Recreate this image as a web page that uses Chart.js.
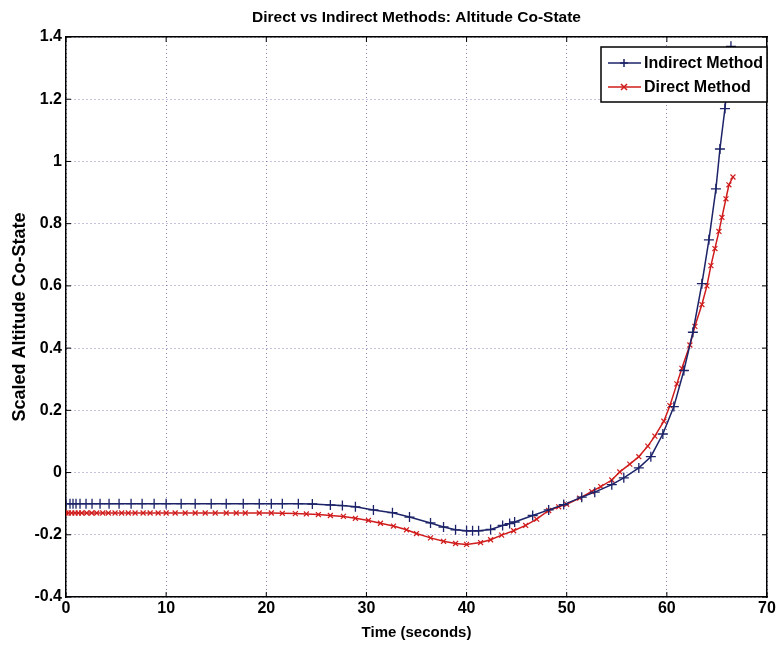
<!DOCTYPE html>
<html>
<head>
<meta charset="utf-8">
<script src="https://cdn.jsdelivr.net/npm/chart.js@4/dist/chart.umd.min.js"></script>
<style>
  html, body { margin: 0; padding: 0; background: #fff; }
  #wrap { width: 782px; height: 649px; }
</style>
</head>
<body>
<div id="wrap"><canvas id="costateChart" width="782" height="649"></canvas></div>
<script>
// values
const indirectTime = [0, 0.4, 0.7, 1.0, 1.4, 2.0, 2.6, 3.4, 4.3, 5.3, 6.5, 7.6, 8.8, 10.0, 11.5, 12.9, 14.5, 16.0,
  17.7, 19.3, 20.5, 21.6, 23.2, 24.6, 26.4, 27.6, 28.9, 30.7, 32.6, 34.3, 36.4, 37.7, 38.9, 40.0, 40.6, 41.2,
  42.4, 43.6, 44.3, 44.8, 46.6, 48.2, 49.7, 51.5, 52.8, 54.5, 55.7, 57.2, 58.4, 59.6, 60.7, 61.7, 62.6, 63.5,
  64.2, 64.9, 65.3, 65.8, 66.4];
const indirectValue = [-0.1, -0.1, -0.1, -0.1, -0.1, -0.1, -0.1, -0.1, -0.1, -0.1, -0.1, -0.1, -0.1, -0.1, -0.1, -0.1, -0.1, -0.1,
  -0.1, -0.1, -0.1, -0.1, -0.1, -0.101, -0.104, -0.106, -0.110, -0.120, -0.129, -0.143, -0.162, -0.175, -0.184, -0.187, -0.187, -0.187,
  -0.183, -0.170, -0.164, -0.159, -0.138, -0.120, -0.103, -0.079, -0.063, -0.039, -0.017, 0.015, 0.051, 0.124, 0.212, 0.328, 0.451, 0.607,
  0.748, 0.912, 1.04, 1.17, 1.37];

const directTime = [0, 0.23, 0.57, 0.9, 1.23, 1.57, 2.07, 2.57, 3.07, 3.67, 4.23, 4.9, 5.56, 6.22, 6.9, 7.7, 8.4, 9.2, 10.0,
  10.9, 11.9, 12.9, 13.9, 14.9, 16.0, 17.0, 17.9, 19.3, 20.5, 21.6, 22.9, 24.0, 25.2, 26.4, 27.7, 28.9, 30.2, 31.4,
  32.7, 34.0, 35.0, 36.4, 37.7, 38.9, 40.0, 41.4, 42.4, 43.5, 44.7, 45.9, 47.0, 48.2, 49.2, 50.0, 51.3, 52.5, 53.4,
  54.5, 55.3, 56.3, 57.2, 58.1, 58.8, 59.7, 60.3, 61.0, 61.5, 62.3, 62.8, 63.5, 64.0, 64.4, 64.8, 65.2, 65.5, 65.9,
  66.2, 66.6];
const directValue = [-0.13, -0.13, -0.13, -0.13, -0.13, -0.13, -0.13, -0.13, -0.13, -0.13, -0.13, -0.13, -0.13, -0.13, -0.13, -0.13, -0.13, -0.13, -0.13,
  -0.13, -0.13, -0.13, -0.13, -0.13, -0.13, -0.13, -0.13, -0.13, -0.13, -0.131, -0.132, -0.133, -0.135, -0.138, -0.141, -0.147, -0.154, -0.163,
  -0.172, -0.184, -0.196, -0.210, -0.221, -0.228, -0.231, -0.225, -0.216, -0.201, -0.187, -0.170, -0.150, -0.122, -0.110, -0.102, -0.082, -0.061, -0.045,
  -0.024, 0.002, 0.027, 0.051, 0.085, 0.117, 0.165, 0.215, 0.285, 0.335, 0.41, 0.47, 0.54, 0.60, 0.665, 0.72, 0.775, 0.82, 0.88,
  0.925, 0.95];

const seriesNames = ['Indirect Method', 'Direct Method'];
const xTicks = [0, 10, 20, 30, 40, 50, 60, 70];
const yTicks = [-0.4, -0.2, 0, 0.2, 0.4, 0.6, 0.8, 1, 1.2, 1.4];

const FONT = '"Liberation Sans", Arial, Helvetica, sans-serif';
const gridColor = 'rgba(120, 110, 170, 0.85)';

function toPoints(xs, ys) {
  return xs.map((x, i) => ({ x: x, y: ys[i] }));
}

function drawMarker(ctx, style, x, y, r) {
  ctx.beginPath();
  if (style === 'cross') {
    ctx.moveTo(x - r, y); ctx.lineTo(x + r, y);
    ctx.moveTo(x, y - r); ctx.lineTo(x, y + r);
  } else {
    const d = r * 0.75;
    ctx.moveTo(x - d, y - d); ctx.lineTo(x + d, y + d);
    ctx.moveTo(x - d, y + d); ctx.lineTo(x + d, y - d);
  }
  ctx.stroke();
}

// MATLAB style ticks pointing into the axes box
const innerTicks = {
  id: 'innerTicks',
  afterDatasetsDraw(chart) {
    const { ctx, chartArea, scales } = chart;
    const len = 5;
    ctx.save();
    ctx.strokeStyle = '#000';
    ctx.lineWidth = 1;
    ctx.beginPath();
    xTicks.forEach(v => {
      const px = scales.x.getPixelForValue(v);
      ctx.moveTo(px, chartArea.bottom); ctx.lineTo(px, chartArea.bottom - len);
      ctx.moveTo(px, chartArea.top); ctx.lineTo(px, chartArea.top + len);
    });
    yTicks.forEach(v => {
      const py = scales.y.getPixelForValue(v);
      ctx.moveTo(chartArea.left, py); ctx.lineTo(chartArea.left + len, py);
      ctx.moveTo(chartArea.right, py); ctx.lineTo(chartArea.right - len, py);
    });
    ctx.stroke();
    ctx.restore();
  }
};

// boxed legend in the upper right corner, like the original
const boxLegend = {
  id: 'boxLegend',
  afterDraw(chart) {
    const { ctx, chartArea } = chart;
    const w = 166, h = 55;
    const x0 = chartArea.right - w, y0 = chartArea.top + 10;
    ctx.save();
    ctx.fillStyle = '#fff';
    ctx.fillRect(x0, y0, w, h);
    ctx.strokeStyle = '#000';
    ctx.lineWidth = 1.5;
    ctx.strokeRect(x0, y0, w, h);
    ctx.font = 'bold 16px ' + FONT;
    ctx.textBaseline = 'middle';
    chart.data.datasets.forEach((ds, i) => {
      const cy = y0 + 16 + i * 24;
      ctx.strokeStyle = ds.borderColor;
      ctx.lineWidth = 1.5;
      ctx.beginPath();
      ctx.moveTo(x0 + 7, cy); ctx.lineTo(x0 + 40, cy);
      ctx.stroke();
      drawMarker(ctx, ds.pointStyle, x0 + 23, cy, 4);
      ctx.fillStyle = '#000';
      ctx.fillText(ds.label, x0 + 43, cy + 1);
    });
    ctx.restore();
  }
};

const ctx = document.getElementById('costateChart').getContext('2d');
new Chart(ctx, {
  type: 'scatter',
  data: {
    datasets: [{
      label: seriesNames[0],
      data: toPoints(indirectTime, indirectValue),
      showLine: true,
      borderColor: '#1c2368',
      backgroundColor: '#1c2368',
      borderWidth: 1.5,
      pointStyle: 'cross',
      pointRadius: 5,
      pointBorderWidth: 1.3,
      tension: 0,
    }, {
      label: seriesNames[1],
      data: toPoints(directTime, directValue),
      showLine: true,
      borderColor: '#d01c1c',
      backgroundColor: '#d01c1c',
      borderWidth: 1.5,
      pointStyle: 'crossRot',
      pointRadius: 3.5,
      pointBorderWidth: 1.2,
      tension: 0,
    }]
  },
  options: {
    responsive: false,
    animation: false,
    events: [],
    layout: { padding: 0 },
    scales: {
      x: {
        type: 'linear',
        position: 'bottom',
        min: 0, max: 70,
        afterFit: (scale) => { scale.height = 52; },
        afterBuildTicks: (scale) => { scale.ticks = xTicks.map(v => ({ value: v })); },
        ticks: { color: '#000', font: { family: FONT, size: 16, weight: 'bold' }, padding: 2, maxRotation: 0 },
        grid: { color: gridColor, lineWidth: 1, drawTicks: false },
        border: { display: true, color: '#000', width: 1.5, dash: [1, 3] },
        title: { display: true, text: 'Time (seconds)', color: '#000', font: { family: FONT, size: 15, weight: 'bold' }, padding: { top: 0, bottom: 7 } }
      },
      // top axis only draws the box edge and carries the title, centred over the plot
      xTop: {
        type: 'linear',
        position: 'top',
        min: 0, max: 70,
        afterFit: (scale) => { scale.height = 37; },
        ticks: { display: false },
        grid: { display: false },
        border: { display: true, color: '#000', width: 1.5 },
        title: {
          display: true,
          text: 'Direct vs Indirect Methods: Altitude Co-State',
          color: '#000',
          font: { family: FONT, size: 15.5, weight: 'bold' },
          padding: { top: 8, bottom: 0 }
        }
      },
      y: {
        type: 'linear',
        position: 'left',
        min: -0.4, max: 1.4,
        afterFit: (scale) => { scale.width = 66; },
        afterBuildTicks: (scale) => { scale.ticks = yTicks.map(v => ({ value: v })); },
        ticks: {
          color: '#000', font: { family: FONT, size: 16, weight: 'bold' }, padding: 4,
          callback: (v) => String(Number(v.toFixed(1)))
        },
        grid: { color: gridColor, lineWidth: 1, drawTicks: false },
        border: { display: true, color: '#000', width: 1.5, dash: [1, 3] },
        title: { display: true, text: 'Scaled Altitude Co-State', color: '#000', font: { family: FONT, size: 18, weight: 'bold' }, padding: { top: 9, bottom: 0 } }
      },
      yRight: {
        type: 'linear',
        position: 'right',
        min: -0.4, max: 1.4,
        afterFit: (scale) => { scale.width = 15; },
        ticks: { display: false },
        grid: { display: false },
        border: { display: true, color: '#000', width: 1.5 }
      }
    },
    plugins: {
      legend: { display: false },
      tooltip: { enabled: false },
      title: { display: false }
    }
  },
  plugins: [innerTicks, boxLegend]
});
</script>
</body>
</html>
